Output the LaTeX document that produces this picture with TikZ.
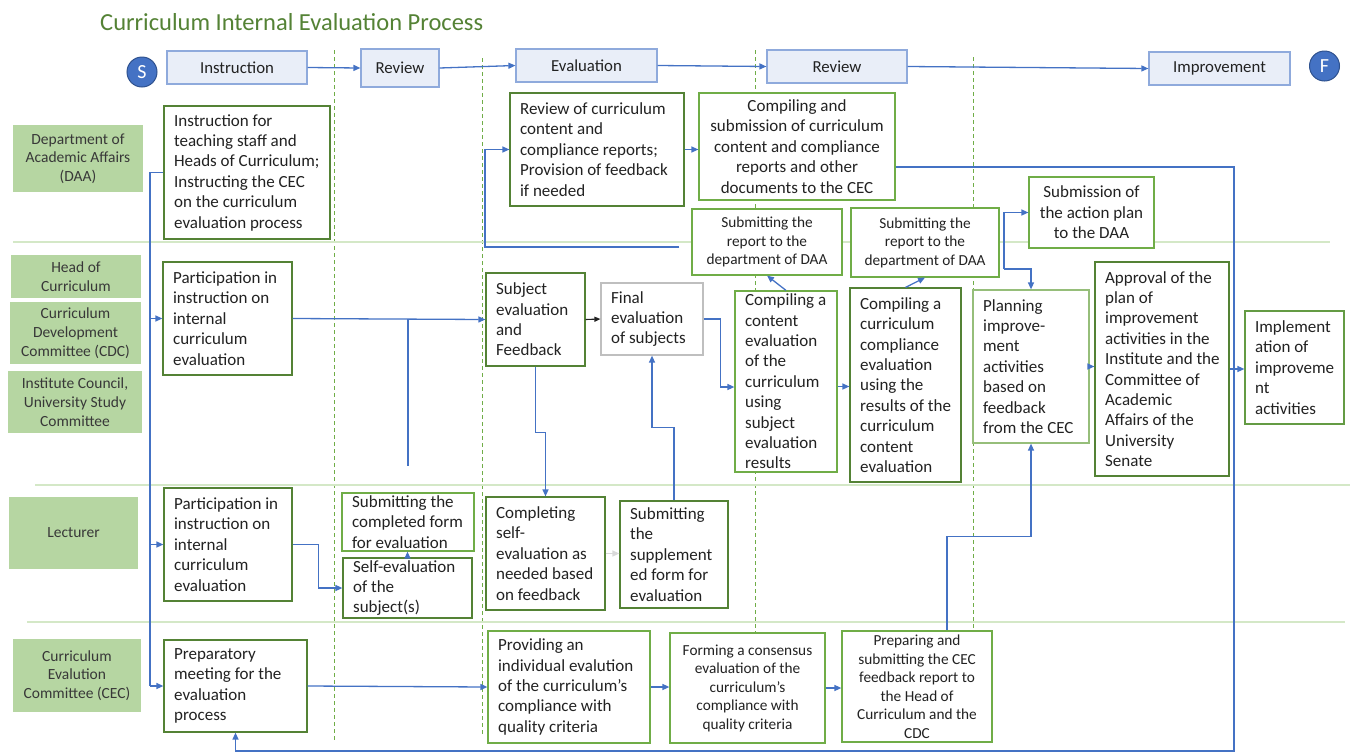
\documentclass[tikz,border=0pt]{standalone}
\usepackage{fontspec}
\setmainfont{Carlito}
\usetikzlibrary{arrows.meta}

\definecolor{flowblue}{RGB}{68,114,196}
\definecolor{circedge}{RGB}{47,82,143}
\definecolor{hdrfill}{RGB}{233,238,248}
\definecolor{hdrline}{RGB}{143,170,220}
\definecolor{lanefill}{RGB}{182,214,162}
\definecolor{laneline}{RGB}{212,232,199}
\definecolor{gdark}{RGB}{84,130,53}
\definecolor{gmid}{RGB}{100,155,68}
\definecolor{gbright}{RGB}{112,173,71}
\definecolor{gpale}{RGB}{150,190,122}
\definecolor{boxgray}{RGB}{191,191,191}
\definecolor{ink}{RGB}{34,34,34}
\definecolor{titlegreen}{RGB}{84,130,53}

\tikzset{
  big/.style={font=\fontsize{17}{20.4}\selectfont, text=ink},
  small/.style={font=\fontsize{15.3}{18.5}\selectfont, text=ink},
  pbox/.style={draw, fill=white, line width=1.2pt, inner sep=0pt},
  dk/.style={pbox, draw=gdark},
  md/.style={pbox, draw=gmid},
  br/.style={pbox, draw=gbright},
  pl/.style={pbox, draw=gpale},
  gy/.style={pbox, draw=boxgray},
  hdr/.style={draw=hdrline, fill=hdrfill, line width=1.2pt, inner sep=0pt,
    font=\fontsize{16.8}{20}\selectfont, text=ink},
  lane/.style={fill=lanefill, inner sep=0pt, font=\fontsize{15.5}{18.7}\selectfont, text=ink!90},
  endpt/.style={circle, fill=flowblue, draw=circedge, line width=1pt, minimum size=30pt,
    inner sep=0pt, text=white, font=\fontsize{20}{24}\selectfont},
  plain/.style={draw=flowblue, line width=1.3pt},
  flow/.style={plain, -{Triangle[length=7pt,width=6pt]}},
  flowK/.style={draw=ink, line width=1.1pt, -{Triangle[length=6pt,width=5pt]}},
  flowG/.style={draw=black!15, line width=1.3pt, -{Triangle[length=7pt,width=6pt]}},
  phase/.style={draw=gbright, line width=1pt, dash pattern=on 4pt off 3pt},
  lanesep/.style={draw=laneline, line width=1.6pt},
}

% box with left-aligned text: name, style, x1, y1, x2, y2, text
\newcommand\procL[7]{%
  \pgfmathsetmacro\myW{#5-#3}\pgfmathsetmacro\myH{#6-#4}%
  \pgfmathsetmacro\myX{(#3+#5)/2}\pgfmathsetmacro\myY{(#4+#6)/2}%
  \node[#2, minimum width=\myW pt, minimum height=\myH pt] (#1) at (\myX,\myY) {};%
  \node[big, inner sep=0pt, anchor=west, align=left] (#1-t) at ([xshift=10.5pt]#1.west) {#7};}
% box with centred text: name, style, x1, y1, x2, y2, text
\newcommand\procC[7]{%
  \pgfmathsetmacro\myW{#5-#3}\pgfmathsetmacro\myH{#6-#4}%
  \pgfmathsetmacro\myX{(#3+#5)/2}\pgfmathsetmacro\myY{(#4+#6)/2}%
  \node[#2, minimum width=\myW pt, minimum height=\myH pt, align=center] (#1) at (\myX,\myY) {#7};}

\begin{document}
\begin{tikzpicture}[x=1pt, y=-1pt]
\useasboundingbox (0,0) rectangle (1355,753);

% title
\node[anchor=base west, inner sep=0pt, font=\fontsize{24.5}{28}\selectfont, text=titlegreen]
  (title) at (100,30) {Curriculum Internal Evaluation Process};

% phase separators and lane separators
\draw[phase] (334,50) -- (334,742);
\draw[phase] (482,58) -- (482,735);
\draw[phase] (755,50) -- (755,742);
\draw[phase] (973,57) -- (973,742);
\draw[lanesep] (13,242) -- (1330,242);
\draw[lanesep] (35,485) -- (1350,485);
\draw[lanesep] (27,622) -- (1345,622);

% phase headers
\node[endpt] (cS) at (142,72) {S};
\node[endpt] (cF) at (1324.5,66) {F};
\procC{hIns}{hdr}{167}{51}{307}{84}{Instruction}
\procC{hRev1}{hdr}{361}{49}{439}{87}{Review}
\procC{hEval}{hdr}{516}{49}{657}{82}{Evaluation}
\procC{hRev2}{hdr}{767}{50}{907}{83}{Review}
\procC{hImp}{hdr}{1149}{52}{1290}{85}{Improvement}

% lane labels
\procC{lDAA}{lane}{13}{125}{143}{192}{Department of\\Academic Affairs\\(DAA)}
\procC{lHead}{lane}{11}{255}{141}{298}{Head of\\Curriculum}
\procC{lCDC}{lane}{10}{302}{141}{364}{Curriculum\\Development\\Committee (CDC)}
\procC{lIC}{lane}{8}{371}{142}{433}{Institute Council,\\University Study\\Committee}
\procC{lLec}{lane}{9}{497}{138}{569}{Lecturer}
\procC{lCEC}{lane}{13}{639}{141}{712}{Curriculum\\Evalution\\Committee (CEC)}

% DAA lane
\procL{daaI}{dk}{164}{106}{330}{239}{Instruction for\\teaching staff and\\Heads of Curriculum;\\Instructing the CEC\\on the curriculum\\evaluation process}
\procL{revC}{dk}{510}{93}{684}{206}{Review of curriculum\\content and\\compliance reports;\\Provision of feedback\\if needed}
\procC{compS}{br,big}{699}{93}{895}{200}{Compiling and\\submission of curriculum\\content and compliance\\reports and other\\documents to the CEC}
\procC{subR1}{br,small}{692}{209}{842}{275}{Submitting the\\report to the\\department of DAA}
\procC{subR2}{br,small}{851}{208}{999}{277}{Submitting the\\report to the\\department of DAA}
\procC{actP}{br,big}{1029}{177}{1154}{248}{Submission of\\the action plan\\to the DAA}

% Head of Curriculum / CDC / Council lane
\procL{partH}{dk}{163}{262}{292}{375}{Participation in\\instruction on\\internal\\curriculum\\evaluation}
\procL{subjE}{dk}{486}{273}{585}{366}{Subject\\evaluation\\and\\Feedback}
\procL{finE}{gy}{601}{283}{703}{355}{Final\\evaluation\\of subjects}
\procL{compC}{br}{735}{291}{837}{472}{Compiling a\\content\\evaluation\\of the\\curriculum\\using\\subject\\evaluation\\results}
\procL{compK}{dk}{850}{288}{961}{482}{Compiling a\\curriculum\\compliance\\evaluation\\using the\\results of the\\curriculum\\content\\evaluation}
\procL{planI}{pl}{973}{290}{1089}{443}{Planning\\improve-\\ment\\activities\\based on\\feedback\\from the CEC}
\procL{appr}{dk}{1095}{262}{1229}{476}{Approval of the\\plan of\\improvement\\activities in the\\Institute and the\\Committee of\\Academic\\Affairs of the\\University\\Senate}
\procL{impl}{md}{1245}{311}{1344}{424}{Implement\\ation of\\improveme\\nt\\activities}

% Lecturer lane
\procL{partL}{dk}{164}{488}{292}{601}{Participation in\\instruction on\\internal\\curriculum\\evaluation}
\procL{subF}{br}{342}{493}{474}{551}{Submitting the\\completed form\\for evaluation}
\procL{selfE}{dk}{343}{558}{472}{618}{Self-evaluation\\of the\\subject(s)}
\procL{compl}{dk}{486}{497}{605}{610}{Completing\\self-\\evaluation as\\needed based\\on feedback}
\procL{subS}{dk}{620}{501}{728}{608}{Submitting\\the\\supplement\\ed form for\\evaluation}

% CEC lane
\procL{prep}{dk}{164}{640}{307}{732}{Preparatory\\meeting for the\\evaluation\\process}
\procL{prov}{br}{488}{631}{650}{743}{Providing an\\individual evalution\\of the curriculum's\\compliance with\\quality criteria}
\procC{form}{br,small}{670}{633}{825}{743}{Forming a consensus\\evaluation of the\\curriculum's\\compliance with\\quality criteria}
\procC{prepR}{br,small}{842}{631}{992}{742}{Preparing and\\submitting the CEC\\feedback report to\\the Head of\\Curriculum and the\\CDC}

% header flow
\draw[flow] (hIns.east) -- (hRev1.west);
\draw[flow] (hRev1.east) -- (hEval.west);
\draw[flow] (hEval.east) -- (hRev2.west);
\draw[flow] (hRev2.east) -- (hImp.west);

% instruction trunk from the DAA
\coordinate (tkTop) at (150,172.5);
\coordinate (tkBot) at (150,686);
\draw[plain] (daaI.west) -- (tkTop) -- (tkBot);
\draw[flow] (partH.west -| tkTop) -- (partH.west);
\draw[flow] (partL.west -| tkTop) -- (partL.west);
\draw[flow] (prep.west -| tkTop) -- (prep.west);

% Head of Curriculum / CDC lane flows
\coordinate (stubT) at (408,319);
\coordinate (stubB) at (408,466);
\draw[flow] (partH.east) -- (subjE.west);
\draw[plain] (stubT) -- (stubB);
\draw[flowK] (subjE.east) -- (finE.west);
\draw[flow] (finE.east) -- ++(17,0) |- ([yshift=-5.5pt]compC.west);
\draw[flow] ([yshift=-5pt]compC.east) -- ([yshift=-5pt]compC.east -| compK.west);
\draw[flow] (compC.north) -- (subR1.south);
\draw[flow] (compK.north) -- (subR2.south);
\draw[flow] ([xshift=-12pt,yshift=-5pt]subR1.west) -- (485,247) |- (revC.west);
\draw[flow] (revC.east) -- (revC.east -| compS.west);
\draw[flow] ([yshift=-20.5pt]compS.east) -| (1234,751) -| (prep.south);
\coordinate (apJ) at (1004,269);
\draw[flow] (apJ) -| (planI.north);
\draw[flow] (apJ) |- (actP.west);
\draw[flow] (planI.east) -- (planI.east -| appr.west);
\draw[flow] (appr.east) -- (appr.east -| impl.west);

% Lecturer lane flows
\draw[flow] (subjE.south) -- ++(0,66) -| (compl.north);
\draw[flow] (subS.north) -- ++(0,-73) -| (finE.south);
\draw[flowG] (compl.east) -- (compl.east -| subS.west);
\draw[flow] (partL.east) -- ++(26,0) |- (selfE.west);
\draw[flow] (selfE.north) -- (selfE.north |- subF.south);

% CEC lane flows
\draw[flow] (prep.east) -- (prov.west);
\draw[flow] (prov.east) -- (prov.east -| form.west);
\draw[flow] (form.east) -- (form.east -| prepR.west);
\draw[flow] ([xshift=30pt]prepR.north) |- ([yshift=-93pt]planI.south) -- (planI.south);
\end{tikzpicture}
\end{document}
